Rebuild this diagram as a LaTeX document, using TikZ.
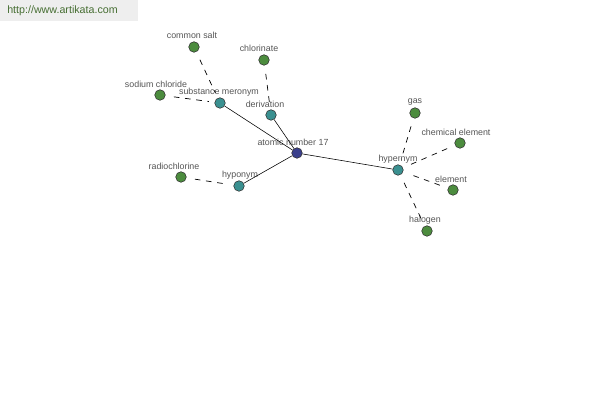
\documentclass[tikz,border=0pt]{standalone}
\usepackage{fontspec}
\setmainfont{Liberation Sans}
\definecolor{leafgreen}{RGB}{76,140,62}
\definecolor{relteal}{RGB}{58,144,144}
\definecolor{rootblue}{RGB}{58,63,140}
\definecolor{labelgray}{RGB}{85,85,85}
\definecolor{markgreen}{RGB}{70,110,50}
\definecolor{markbg}{RGB}{238,238,238}
\tikzset{
  dot/.style={circle,draw=black!80,line width=0.4pt,inner sep=0pt,minimum size=7.5pt},
  leaf/.style={dot,fill=leafgreen},
  rel/.style={dot,fill=relteal},
  root/.style={dot,fill=rootblue},
  lbl/.style={text=labelgray,font=\fontsize{6.3}{7}\selectfont,inner sep=0pt},
  solidedge/.style={black,line width=0.4pt},
  dashedge/.style={black,line width=0.5pt,dashed,dash pattern=on 4pt off 4pt,shorten >=4pt,shorten <=6pt}
}
\begin{document}
\begin{tikzpicture}[x=0.025cm,y=-0.025cm]
\useasboundingbox (0,0) rectangle (600,400);
\fill[markbg] (0,0) rectangle (138,21);
\node[text=markgreen,font=\fontsize{7.6}{9}\selectfont,anchor=west,inner sep=0pt] (mark) at (7,11) {http://www.artikata.com};

% center and relations
\node[root] (atomic) at (297,153) {};
\node[rel] (meronym) at (220,103) {};
\node[rel] (deriv) at (271,115) {};
\node[rel] (hypo) at (239,186) {};
\node[rel] (hyper) at (398,170) {};

% leaves
\node[leaf] (salt) at (194,47) {};
\node[leaf] (chlorinate) at (264,60) {};
\node[leaf] (sodium) at (160,95) {};
\node[leaf] (radio) at (181,177) {};
\node[leaf] (gas) at (415,113) {};
\node[leaf] (chemel) at (460,143) {};
\node[leaf] (element) at (453,190) {};
\node[leaf] (halogen) at (427,231) {};

% labels
\node[lbl] (atomiclbl) at (293,142) {atomic number 17};
\node[lbl] (meronymlbl) at (219,92) {substance meronym};
\node[lbl] (derivlbl) at (265,104) {derivation};
\node[lbl] (hypolbl) at (240,175) {hyponym};
\node[lbl] (hyperlbl) at (398,159) {hypernym};
\node[lbl] (saltlbl) at (192,35) {common salt};
\node[lbl] (chlorinatelbl) at (259,48) {chlorinate};
\node[lbl] (sodiumlbl) at (156,84) {sodium chloride};
\node[lbl] (radiolbl) at (174,166) {radiochlorine};
\node[lbl] (gaslbl) at (415,102) {gas};
\node[lbl] (chemellbl) at (456,132) {chemical element};
\node[lbl] (elementlbl) at (451,179) {element};
\node[lbl] (halogenlbl) at (425,220) {halogen};

\draw[solidedge] (atomic)--(meronym);
\draw[solidedge] (atomic)--(deriv);
\draw[solidedge] (atomic)--(hypo);
\draw[solidedge] (atomic)--(hyper);

\draw[dashedge] (salt)--(meronym);
\draw[dashedge] (sodium)--(meronym);
\draw[dashedge] (chlorinate)--(deriv);
\draw[dashedge] (radio)--(hypo);
\draw[dashedge] (gas)--(hyper);
\draw[dashedge] (chemel)--(hyper);
\draw[dashedge] (element)--(hyper);
\draw[dashedge] (halogen)--(hyper);
\end{tikzpicture}
\end{document}
